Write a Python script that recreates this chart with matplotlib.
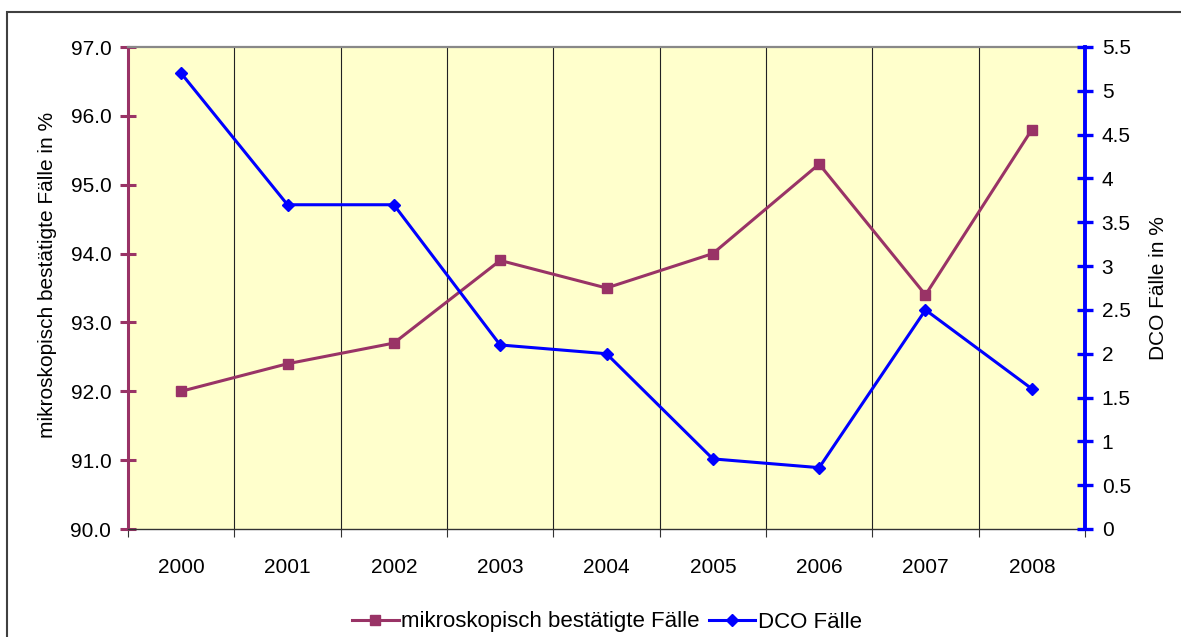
import matplotlib
matplotlib.use("Agg")
import matplotlib.pyplot as plt
from matplotlib.patches import Rectangle
from matplotlib.ticker import FixedLocator

plt.rcParams['font.family'] = ['Liberation Sans', 'DejaVu Sans']

years = ["2000", "2001", "2002", "2003", "2004", "2005", "2006", "2007", "2008"]
mikro = [92.0, 92.4, 92.7, 93.9, 93.5, 94.0, 95.3, 93.4, 95.8]
dco = [5.2, 3.7, 3.7, 2.1, 2.0, 0.8, 0.7, 2.5, 1.6]
left_ticks = [90.0, 91.0, 92.0, 93.0, 94.0, 95.0, 96.0, 97.0]
right_ticks = [0, 0.5, 1, 1.5, 2, 2.5, 3, 3.5, 4, 4.5, 5, 5.5]

PURPLE = "#993366"
BLUE = "#0000FF"
FS = 15

W, H = 1181, 637
fig = plt.figure(figsize=(W / 100, H / 100), dpi=100)

# outer chart frame (left and top edges visible)
fig.patches.append(Rectangle((7 / W, -0.05), 1.2, 1 - 12 / H + 0.05,
                             transform=fig.transFigure, fill=False,
                             edgecolor="#404040", linewidth=1.5))

ax = fig.add_axes([128 / W, 1 - 529 / H, (1085 - 128) / W, (529 - 47) / H])
ax.set_facecolor("#FFFFCC")
x = list(range(len(years)))

ax.set_xlim(-0.5, len(years) - 0.5)
ax.set_ylim(90, 97)

# vertical separators between categories
for b in [i + 0.5 for i in range(len(years) - 1)]:
    ax.axvline(b, color="#222222", linewidth=0.8, zorder=1)

ax.plot(x, mikro, color=PURPLE, linewidth=2.2, marker="s", markersize=7,
        label="mikroskopisch bestätigte Fälle", zorder=3)

ax.set_xticks(x)
ax.set_xticklabels(years, fontsize=FS)
ax.tick_params(axis="x", which="major", length=0, pad=21)
ax.xaxis.set_minor_locator(FixedLocator([i - 0.5 for i in range(len(years) + 1)]))
ax.tick_params(axis="x", which="minor", length=6, width=0.8, color="#333333", direction="out")

ax.set_yticks(left_ticks)
ax.set_yticklabels([f"{v:.1f}" for v in left_ticks], fontsize=FS)
ax.tick_params(axis="y", which="major", direction="inout", length=12, width=2.2,
               color=PURPLE, pad=6)
ax.set_ylabel("mikroskopisch bestätigte Fälle in %", fontsize=FS)
ax.yaxis.set_label_coords(-0.0745, 0.527)

ax.spines["left"].set_color(PURPLE)
ax.spines["left"].set_linewidth(2.2)
ax.spines["bottom"].set_color("#333333")
ax.spines["bottom"].set_linewidth(1.0)
ax.spines["top"].set_color("#888888")
ax.spines["top"].set_linewidth(1.6)
ax.spines["right"].set_visible(False)

ax2 = ax.twinx()
ax2.set_ylim(0, 5.5)
ax2.plot(x, dco, color=BLUE, linewidth=2.2, marker="D", markersize=6.5,
         label="DCO Fälle", zorder=3)
ax2.set_yticks(right_ticks)
ax2.set_yticklabels([f"{v:g}" for v in right_ticks], fontsize=FS)
ax2.tick_params(axis="y", which="major", direction="inout", length=12, width=2.4,
                color=BLUE, pad=6)
ax2.set_ylabel("DCO Fälle in %", fontsize=FS)
ax2.yaxis.set_label_coords(1.0667, 0.5)
ax2.spines["right"].set_color(BLUE)
ax2.spines["right"].set_linewidth(2.8)
for s in ("left", "top", "bottom"):
    ax2.spines[s].set_visible(False)

h1, l1 = ax.get_legend_handles_labels()
h2, l2 = ax2.get_legend_handles_labels()
fig.legend(h1 + h2, l1 + l2, loc="center", bbox_to_anchor=(607 / W, 1 - 622 / H),
           ncol=2, frameon=False, fontsize=16, handlelength=2.1,
           handletextpad=0.12, columnspacing=0.4)

fig.savefig("out.png", dpi=100)
